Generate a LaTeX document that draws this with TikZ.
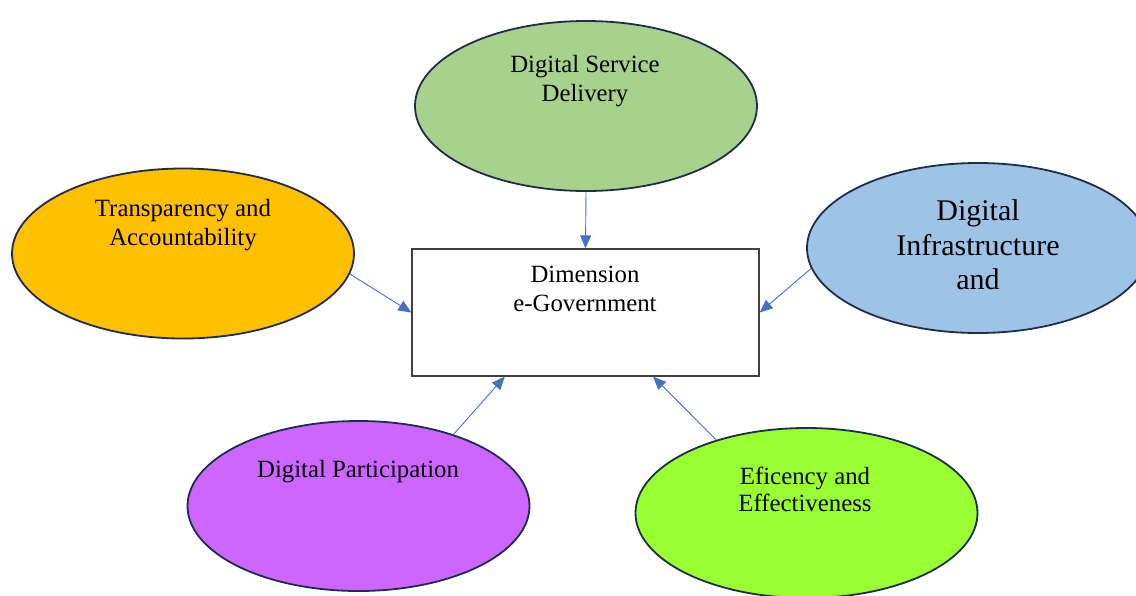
\documentclass[tikz,border=0pt]{standalone}
\usepackage{fontspec}
\setmainfont{Liberation Serif}
\usetikzlibrary{shapes.geometric,arrows.meta,calc}
\definecolor{cgreen}{HTML}{A9D18E}
\definecolor{corange}{HTML}{FFC000}
\definecolor{cblue}{HTML}{9DC3E6}
\definecolor{cpurple}{HTML}{CC66FF}
\definecolor{clime}{HTML}{99FF33}
\definecolor{cedge}{HTML}{1F2D4A}
\definecolor{carrow}{HTML}{4472C4}
\tikzset{
  oval/.style={ellipse, draw=cedge, line width=1.8pt, minimum width=342pt, minimum height=170pt, inner sep=0pt},
  lbl/.style={align=center, inner sep=0pt, font=\fontsize{24.8}{29}\selectfont},
  biglbl/.style={align=center, inner sep=0pt, font=\fontsize{30}{34.5}\selectfont},
  box/.style={draw=black!75, line width=1.3pt, fill=white, minimum width=347pt, minimum height=127pt, inner sep=0pt},
  link/.style={draw=carrow, line width=0.9pt, -{Triangle[length=13pt,width=11pt]}}
}
\begin{document}
\begin{tikzpicture}[x=1pt,y=-1pt]
\useasboundingbox (0,0) rectangle (1136,595);
\fill[white] (0,0) rectangle (1136,595);
\node[oval, fill=cgreen] (service) at (586,106) {};
\node[oval, fill=corange] (transp) at (183,253.5) {};
\node[oval, fill=cblue] (infra) at (978,248) {};
\node[oval, fill=cpurple] (partic) at (358.5,506) {};
\node[oval, fill=clime] (effic) at (806.5,513) {};
\node[box] (dim) at (585.5,312.5) {};

\node[lbl] (tservice) at (585,81) {Digital Service\\Delivery};
\node[lbl] (ttransp) at (183,225) {Transparency and\\Accountability};
\node[lbl] (tdim) at (585,289) {Dimension\\e-Government};
\node[biglbl] (tinfra) at (978,245) {Digital\\Infrastructure\\and};
\node[lbl] (tpartic) at (358,471.5) {Digital Participation};
\node[lbl, font=\fontsize{24.8}{27.5}\selectfont] (teffic) at (805,489.5) {Eficency and\\Effectiveness};

\coordinate (dimsw) at ($(dim.south west)!0.268!(dim.south east)$);
\coordinate (dimse) at ($(dim.south west)!0.694!(dim.south east)$);
\draw[link] (service.south) -- (dim.north);
\draw[link] (transp.-7) -- (dim.west);
\draw[link] (infra.187.5) -- (dim.east);
\draw[link] (partic.37.7) -- (dimsw);
\draw[link] (effic.141.8) -- (dimse);
\end{tikzpicture}
\end{document}
